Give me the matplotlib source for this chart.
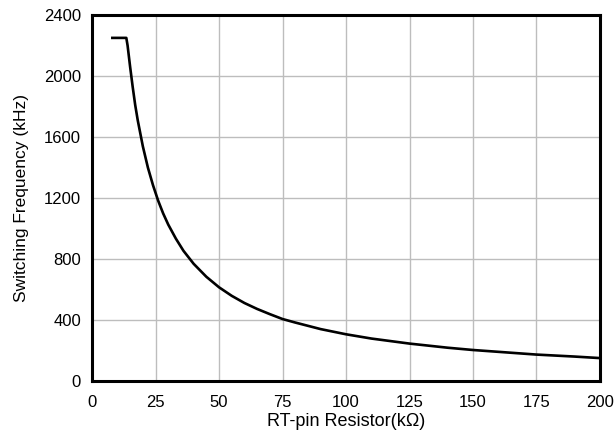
import matplotlib
matplotlib.use("Agg")
import matplotlib.pyplot as plt

# RT-pin resistor (kOhm) vs switching frequency (kHz)
resistor_k = [8, 13.5, 14, 15, 16, 17, 18, 20, 22, 24, 26, 28, 30, 33, 36, 40,
              45, 50, 55, 60, 65, 70, 75, 80, 90, 100, 110, 125, 140, 150,
              160, 175, 190, 200]
freq_khz = [2250, 2250, 2200, 2060, 1930, 1810, 1710, 1540, 1400, 1285, 1185,
            1100, 1027, 935, 855, 770, 685, 616, 560, 513, 474, 440, 408, 385,
            342, 308, 280, 247, 220, 205, 193, 175, 162, 152]

x_ticks = [0, 25, 50, 75, 100, 125, 150, 175, 200]
y_ticks = [0, 400, 800, 1200, 1600, 2000, 2400]

plt.rcParams["font.family"] = ["Liberation Sans", "DejaVu Sans"]

fig = plt.figure(figsize=(6.16, 4.41), dpi=100)
ax = fig.add_axes([0.1494, 0.1354, 0.8246, 0.8306])

ax.plot(resistor_k, freq_khz, color="black", linewidth=1.9)

ax.set_xlim(0, 200)
ax.set_ylim(0, 2400)
ax.set_xticks(x_ticks)
ax.set_yticks(y_ticks)
ax.tick_params(length=0, labelsize=12)
ax.tick_params(axis="x", pad=10)
ax.tick_params(axis="y", pad=8)
ax.grid(color="#bdbdbd", linewidth=1.0)
ax.set_axisbelow(True)
for s in ax.spines.values():
    s.set_linewidth(2.2)
    s.set_color("black")

ax.set_xlabel("RT-pin Resistor(k\u03a9)", fontsize=13, labelpad=2)
ax.set_ylabel("Switching Frequency (kHz)", fontsize=12.5, labelpad=11)

fig.savefig("out.png", dpi=100)
